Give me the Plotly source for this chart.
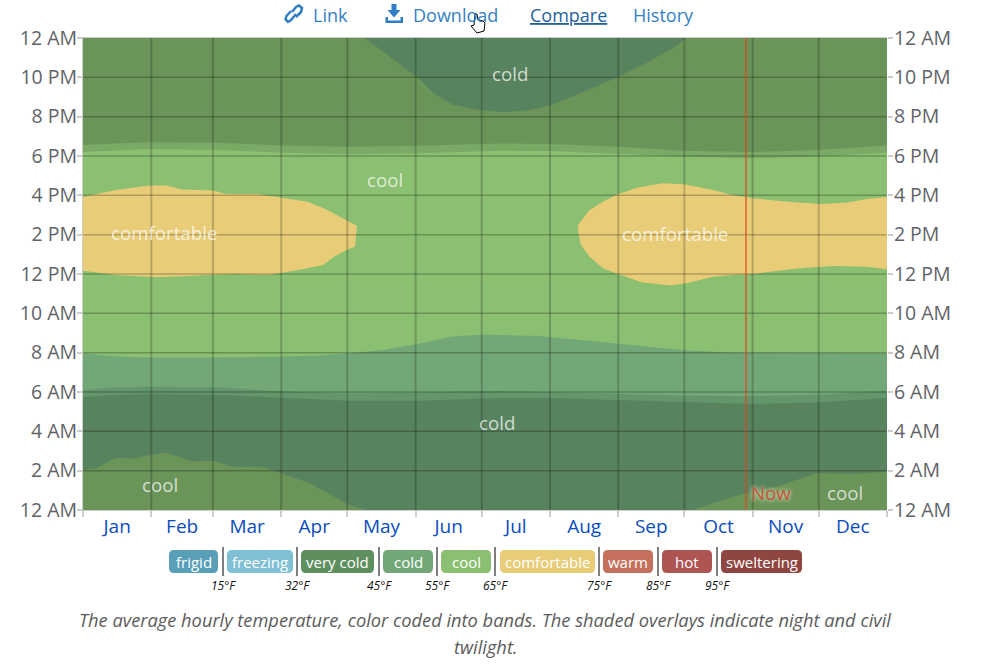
import plotly.graph_objects as go

OFF = 0
W, H = 995, 667
PLOT_L, PLOT_R, PLOT_T, PLOT_B = 83, 887, 38, 510
FONT = "Open Sans"

months = ["Jan","Feb","Mar","Apr","May","Jun","Jul","Aug","Sep","Oct","Nov","Dec"]
month_starts = [0,31,59,90,120,151,181,212,243,273,304,334,365]
month_mids = [15.5,45,74.5,105,135.5,166,196.5,227.5,258,288.5,319,349.5]
hour_ticks = [0,2,4,6,8,10,12,14,16,18,20,22,24]
hour_labels = ["12 AM","2 AM","4 AM","6 AM","8 AM","10 AM","12 PM","2 PM","4 PM","6 PM","8 PM","10 PM","12 AM"]
now_day = 301

comfort1_days = [0,15,30,38,45,59,65,79,91,102,111,120,124.4,123.5,120,114,109,98,84,68,59,34,15,0]
comfort1_hours = [15.92,16.27,16.5,16.5,16.3,16.24,16.07,16.07,15.86,15.68,15.25,14.7,14.44,13.39,13.25,12.88,12.46,12.2,11.95,12.0,11.95,11.83,11.95,12.17]
comfort2_days = [365,356,347,335,320,304,295,286,273,263,251.5,242,236,230,224.7,224.9,226,230,236,244,254,266.5,274,286,295,304,325.5,340.5,356,365]
comfort2_hours = [15.93,15.81,15.63,15.56,15.68,15.85,16.0,16.27,16.56,16.61,16.39,16.02,15.68,15.25,14.49,14.08,13.47,12.88,12.29,11.95,11.57,11.41,11.53,11.86,11.95,12.0,12.29,12.41,12.37,12.24]

cold_top_days = [0,15,30,61,91,106,121,136,152,167,182,189,207,227,244,272,295,318,365]
cold_top_hours = [7.97,7.8,7.75,7.75,7.8,7.84,7.97,8.14,8.44,8.81,8.93,8.9,8.85,8.61,8.44,8.14,8.0,7.97,7.97]
cold_low_days = [0,6,15,23,29,38,49,59,68,82,91,103,114,121,128,277,286,298,315,333,350,365]
cold_low_hours = [2.03,2.12,2.66,2.6,2.76,2.92,2.46,2.51,2.2,2.17,1.83,1.36,0.68,0.24,0,0,0.34,0.76,1.19,1.87,1.83,1.95]
cold_eve_days = [128,136,144,152,159,168,180,191,203,213,226,242,256,268,274]
cold_eve_hours = [24,23.34,22.66,21.98,21.2,20.6,20.34,20.24,20.34,20.6,21.2,21.98,22.74,23.5,24]

twi_days = [0,15,30,61,91,121,152,189,212,244,272,303,333,365]
dawn_start = [5.73,5.85,5.9,5.85,5.71,5.56,5.56,5.69,5.7,5.59,5.48,5.39,5.46,5.7]
dawn_end = [6.1,6.24,6.27,6.24,6.02,5.93,5.97,6.05,6.0,5.9,5.81,5.78,5.85,6.07]
dusk_start = [18.2,18.27,18.36,18.3,18.17,18.1,18.14,18.27,18.25,18.1,17.97,17.88,17.97,18.17]
dusk_end = [18.56,18.64,18.7,18.68,18.54,18.47,18.52,18.64,18.61,18.47,18.27,18.2,18.3,18.54]

band_labels = ["cold","cool","comfortable","comfortable","cold","cool","cool"]
band_label_days = [194,137,36.8,268.6,188,35,346]
band_label_hours = [22.2,16.8,14.13,14.05,4.45,1.28,0.87]

legend_names = ["frigid","freezing","very cold","cold","cool","comfortable","warm","hot","sweltering"]
legend_colors = ["#5a9fb8","#7fc0d6","#5f8f5f","#72a878","#8bbf71","#e8cc78","#c4705c","#ae5554","#8f4540"]
legend_x0 = [169,227,301,383,441,500,603,662,721]
legend_x1 = [218,293,374,433,491,595,653,712,802]
threshold_labels = ["15°F","32°F","45°F","55°F","65°F","75°F","85°F","95°F"]
threshold_x = [223,297,379,437,495,599,658,717]

nav_labels = ["Link","Download","Compare","History"]
nav_x = [311,411,528,631]
caption = ["The average hourly temperature, color coded into bands. The shaded overlays indicate night and civil", "twilight."]

COOL, COLD, COMF = "#8bbf71", "#72a878", "#e8cc78"
GRID_V = "rgba(0,0,0,0.2)"
GRID_H = "rgba(0,0,0,0.24)"

def px(x): return (x - OFF) / W
def py(y): return 1 - (y - OFF) / H

fig = go.Figure()
def poly(xs, ys, color):
    fig.add_trace(go.Scatter(x=list(xs), y=list(ys), mode="lines", fill="toself", fillcolor=color,
                             line=dict(width=0), hoverinfo="skip", showlegend=False))

poly([0,365,365,0],[0,0,24,24],COOL)
poly(comfort1_days, comfort1_hours, COMF)
poly(comfort2_days, comfort2_hours, COMF)
poly(cold_low_days + cold_top_days[::-1], cold_low_hours + cold_top_hours[::-1], COLD)
poly(cold_eve_days, cold_eve_hours, COLD)

NIGHT, TWI = "rgba(10,20,20,0.25)", "rgba(10,20,20,0.125)"
poly([0]+twi_days+[365], [0]+dawn_start+[0], NIGHT)
poly(twi_days+twi_days[::-1], dawn_start+dawn_end[::-1], TWI)
poly(twi_days+twi_days[::-1], dusk_start+dusk_end[::-1], TWI)
poly([0]+twi_days+[365], [24]+dusk_end+[24], NIGHT)

# helper traces that keep the secondary axes alive
fig.add_trace(go.Scatter(x=month_mids, y=[None]*12, xaxis="x2", yaxis="y", hoverinfo="skip", showlegend=False))
fig.add_trace(go.Scatter(x=[None], y=hour_ticks, xaxis="x", yaxis="y2", hoverinfo="skip", showlegend=False))

shapes = []
for d in month_starts[1:-1]:
    shapes.append(dict(type="line", xref="x", yref="y", x0=d, x1=d, y0=0, y1=24, line=dict(color=GRID_V, width=2)))
for h in hour_ticks[1:-1]:
    shapes.append(dict(type="line", xref="x", yref="y", x0=0, x1=365, y0=h, y1=h, line=dict(color=GRID_H, width=1.5)))
shapes.append(dict(type="line", xref="x", yref="y", x0=now_day, x1=now_day, y0=0, y1=24, line=dict(color="rgba(222,70,30,0.8)", width=1.5)))

def rrect(x0, y0, x1, y1, r=5):
    X0,X1,Y0,Y1 = px(x0),px(x1),py(y0),py(y1)
    rx, ry = r/W, r/H
    return (f"M{X0+rx},{Y0} L{X1-rx},{Y0} Q{X1},{Y0} {X1},{Y0-ry} L{X1},{Y1+ry} Q{X1},{Y1} {X1-rx},{Y1} "
            f"L{X0+rx},{Y1} Q{X0},{Y1} {X0},{Y1+ry} L{X0},{Y0-ry} Q{X0},{Y0} {X0+rx},{Y0} Z")

def note(text, x, y, size, color, xanchor="center"):
    ann.append(dict(text=text, x=px(x), y=py(y), xref="paper", yref="paper", showarrow=False,
                    xanchor=xanchor, yanchor="middle", font=dict(family=FONT, size=size, color=color)))

ann = []
for t,d,h in zip(band_labels, band_label_days, band_label_hours):
    ann.append(dict(text=t, x=d, y=h, xref="x", yref="y", showarrow=False, xanchor="center", yanchor="middle",
                    font=dict(family=FONT, size=18.7, color="rgba(255,255,255,0.72)")))
ann.append(dict(text="Now", x=now_day+11.5, y=0.87, xref="x", yref="y", showarrow=False, xanchor="center", yanchor="middle",
                font=dict(family=FONT, size=18.7, color="#c0553a", shadow="0 0 4px #c5d0a8, 0 0 4px #c5d0a8")))

for n,c,x0,x1 in zip(legend_names, legend_colors, legend_x0, legend_x1):
    shapes.append(dict(type="path", xref="paper", yref="paper", path=rrect(x0,550,x1,573), fillcolor=c, line=dict(width=0)))
    note(n, (x0+x1)/2, 562, 15, "white")
for t,x in zip(threshold_labels, threshold_x):
    shapes.append(dict(type="line", xref="paper", yref="paper", x0=px(x), x1=px(x), y0=py(547), y1=py(576), line=dict(color="#555", width=1.5)))
    note(f"<i>{t}</i>", x, 585, 12, "#111")

for t,x in zip(nav_labels, nav_x):
    txt = f"<u>{t}</u>" if t=="Compare" else t
    note(txt, x, 15, 18, "#1f5f9f" if t=="Compare" else "#3480c4", xanchor="left")
for i,t in enumerate(caption):
    note(f"<i>{t}</i>", 485, 619+27*i, 18.25, "#5c5c5c")

# nav icons
BLUE = "#2f7fc6"
def P(pts):
    return "M" + " L".join(f"{px(a)},{py(b)}" for a,b in pts)
shapes += [
    dict(type="path", xref="paper", yref="paper", path=P([(385.5,17),(385.5,23),(403,23),(403,17),(400.5,17),(400.5,20.5),(388,20.5),(388,17)])+" Z", fillcolor=BLUE, line=dict(width=0)),
    dict(type="path", xref="paper", yref="paper", path=P([(391.5,4),(396.5,4),(396.5,10),(400.5,10),(394,17.5),(387.5,10),(391.5,10)])+" Z", fillcolor=BLUE, line=dict(width=0)),
    dict(type="path", xref="paper", yref="paper", path=P([(292,12),(296,7),(299,5.5),(302,8),(301,12),(296,17)]), line=dict(color=BLUE, width=2.5)),
    dict(type="path", xref="paper", yref="paper", path=P([(296,14),(291,20),(288,22),(285.5,19.5),(286.5,16),(291,11)]), line=dict(color=BLUE, width=2.5)),
    dict(type="path", xref="paper", yref="paper", path=P([(475,14),(477,14),(478,20),(483,21),(485,23),(484,31),(477,33),(471,26),(474,25)])+" Z", fillcolor="white", line=dict(color="black", width=1)),
]

axis_font = dict(family=FONT, size=19.5, color="#5f6368")
fig.update_layout(
    width=W, height=H, margin=dict(l=0,r=0,t=0,b=0,autoexpand=False), paper_bgcolor="white", plot_bgcolor="white",
    showlegend=False, shapes=shapes, annotations=ann,
    xaxis=dict(domain=[px(PLOT_L),px(PLOT_R)], range=[0,365], tickmode="array", tickvals=month_starts, showticklabels=False,
               ticks="outside", ticklen=6, tickwidth=1.5, tickcolor="#ccc", showgrid=False, zeroline=False,
               showline=True, linecolor="#ccc", mirror=True, fixedrange=True),
    xaxis2=dict(domain=[px(PLOT_L),px(PLOT_R)], range=[0,365], overlaying="x", anchor="y", side="bottom", tickmode="array",
                tickvals=month_mids, ticktext=months, ticks="", showgrid=False, zeroline=False, showline=False,
                tickfont=dict(family=FONT, size=19, color="#0b4cc0"), ticklabelstandoff=3, fixedrange=True),
    yaxis=dict(domain=[py(PLOT_B),py(PLOT_T)], range=[0,24], tickmode="array", tickvals=hour_ticks, ticktext=hour_labels,
               ticks="outside", ticklen=5, tickwidth=1.5, tickcolor="#ccc", tickfont=axis_font, showgrid=False, zeroline=False,
               showline=True, linecolor="#ccc", ticklabelstandoff=-4, fixedrange=True),
    yaxis2=dict(domain=[py(PLOT_B),py(PLOT_T)], range=[0,24], overlaying="y", anchor="x", side="right", tickmode="array",
                tickvals=hour_ticks, ticktext=hour_labels, ticks="outside", ticklen=5, tickwidth=1.5, tickcolor="#ccc",
                tickfont=axis_font, showgrid=False, zeroline=False, showline=False, ticklabelstandoff=-3, fixedrange=True),
)
fig.write_html("out.html", config={"displayModeBar": False}, post_script="document.body.style.margin='0'")
